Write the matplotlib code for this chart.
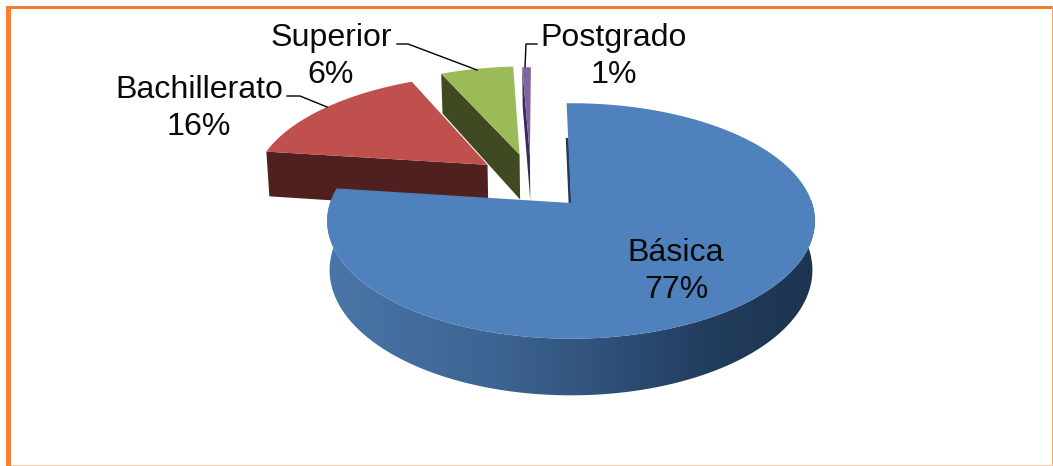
import numpy as np
import matplotlib
matplotlib.use("Agg")
import matplotlib.pyplot as plt
from matplotlib.colors import LinearSegmentedColormap
from matplotlib.patches import Polygon, Rectangle

labels = ["Básica", "Bachillerato", "Superior", "Postgrado"]
values = [77.4, 16.0, 5.9, 0.7]
pcts = ["77%", "16%", "6%", "1%"]

top_colors = ["#4f81bd", "#c0504d", "#9bbb59", "#8064a2"]
side_colors = ["#1f3a5c", "#4f201e", "#3f4a22", "#3a2a5c"]
# how far each slice is pulled out of the pie (in pie radii)
explode = [(0, 0), (-0.365, 0.35), (-0.228, 0.45), (-0.182, 0.44)]

# perspective of the pie on the page, in pixels
CX, CY = 571, 203
R, RQ, K, H = 241, 115, 0.1525, 48
START = -1.2

plt.rcParams["font.family"] = ["Liberation Sans", "DejaVu Sans"]


def proj(theta, r, off, bottom=False):
    # theta in degrees clockwise from 12 o'clock
    t = np.radians(theta)
    u = r * np.sin(t) + off[0]
    v = r * np.cos(t) + off[1]
    w = 1 + K * v
    x = R * u / w
    y = (RQ * v - (H if bottom else 0)) / w
    if bottom:
        x *= 0.99
    return np.column_stack([CX + x, CY - y])


fig, ax = plt.subplots(figsize=(10.53, 4.66), dpi=100)
ax.set_position([0, 0, 1, 1])
ax.axis("off")

# frame
ax.add_patch(Rectangle((6, 6), 1046, 3, color="#ed7d31", lw=0))
ax.add_patch(Rectangle((6, 6), 5, 460, color="#f58231", lw=0))
ax.add_patch(Rectangle((1051.5, 6), 1.5, 460, color="#f4a672", lw=0))
ax.add_patch(Rectangle((11, 464.5), 1042, 1.5, color="#f6c9a9", lw=0))

edges = np.cumsum([0] + values) / sum(values) * 360 + START

# smaller slices first, the big one goes over them
for i in [1, 2, 3]:
    a0, a1 = edges[i], edges[i + 1]
    off = explode[i]
    apex_t = proj(0, 0, off)[0]
    apex_b = proj(0, 0, off, bottom=True)[0]
    left_t = proj(a0, 1, off)[0]
    left_b = proj(a0, 1, off, bottom=True)[0]
    ax.add_patch(Polygon([left_t, apex_t, apex_b, left_b], color=side_colors[i], lw=0))
    arc = proj(np.linspace(a0, a1, 40), 1, off)
    ax.add_patch(Polygon(np.vstack([apex_t, arc]), color=top_colors[i], lw=0))

# big slice: rim with a left-right gradient clipped to the rim outline
a0, a1 = edges[0], edges[1]
off = explode[0]
ths = np.linspace(a0, a1, 400)
top = proj(ths, 1, off)
bot = proj(ths, 1, off, bottom=True)
front = (ths > 80) & (ths < 278)
rim = Polygon(np.vstack([top[front], bot[front][::-1]]), transform=ax.transData, fc="none", lw=0)
ax.add_patch(rim)
rim_cmap = LinearSegmentedColormap.from_list(
    "rim", [(0, "#4b76a9"), (0.35, "#3d6492"), (0.56, "#30517a"), (0.77, "#233d5e"), (1, "#1c3350")])
img = ax.imshow(np.linspace(0, 1, 256)[None, :], cmap=rim_cmap, aspect="auto",
                extent=(322, 822, 400, 200), zorder=1)
img.set_clip_path(rim)

apex = proj(0, 0, off)[0]
edge_pt = proj(a0, 0.62, off)[0]
ax.plot([edge_pt[0] - 1, apex[0] - 1], [edge_pt[1], apex[1]], color=side_colors[0], lw=2,
        solid_capstyle="butt", zorder=2)
ax.add_patch(Polygon(np.vstack([apex, top]), color=top_colors[0], lw=0, zorder=3))

# leader lines
leader_x = [[287, 300, 327], [397, 408, 477], [537, 526, 525]]
leader_y = [[96, 96, 107], [44, 44, 70], [44, 44, 67]]
for lx, ly in zip(leader_x, leader_y):
    ax.plot(lx, ly, color="black", lw=1.0, zorder=4)

label_pos = [(676, 271.5), (199, 108.5), (331, 56.5), (614, 56.5)]
for name, pct, (x, y) in zip(labels, pcts, label_pos):
    ax.text(x, y, name + "\n" + pct, ha="center", va="center", fontsize=23.1,
            color="#0a0a0a", linespacing=1.28, zorder=5)

ax.set_xlim(0, 1053)
ax.set_ylim(466, 0)
fig.savefig("out.png", dpi=100)
